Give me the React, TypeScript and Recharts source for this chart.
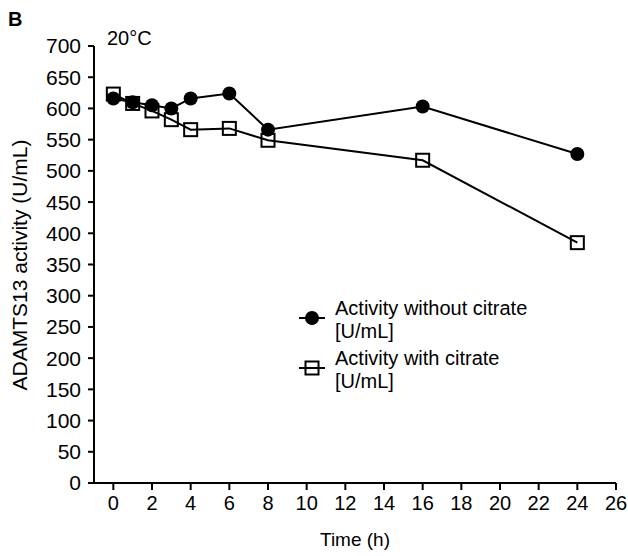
import { LineChart, Line, XAxis, YAxis, Customized } from "recharts";

const hours = [0, 1, 2, 3, 4, 6, 8, 16, 24];
const withoutCitrate = [616, 610, 605, 600, 616, 624, 566, 603, 527];
const withCitrate = [623, 608, 596, 582, 566, 568, 549, 517, 385];
const xTicks = [0, 2, 4, 6, 8, 10, 12, 14, 16, 18, 20, 22, 24, 26];
const yTicks = [0, 50, 100, 150, 200, 250, 300, 350, 400, 450, 500, 550, 600, 650, 700];
const legendLabels = [
  ["Activity without citrate", "[U/mL]"],
  ["Activity with citrate", "[U/mL]"],
];

const data = hours.map((h, i) => ({ time: h, without: withoutCitrate[i], with: withCitrate[i] }));

const FONT = "'Liberation Sans', Arial, Helvetica, sans-serif";

const CircleDot = (props: any) => {
  const { cx, cy } = props;
  return <circle cx={cx} cy={cy} r={7} fill="#000" stroke="none" />;
};

const SquareDot = (props: any) => {
  const { cx, cy } = props;
  const s = 13;
  return <rect x={cx - s / 2} y={cy - s / 2} width={s} height={s} fill="none" stroke="#000" strokeWidth={2} />;
};

// panel letter, temperature, y title and the legend block
const Extras = () => (
  <g fontFamily={FONT} fill="#000">
    <text x={8} y={26} fontSize={20} fontWeight="bold">B</text>
    <text x={107} y={45} fontSize={20}>20°C</text>
    <text
      x={19}
      y={265}
      fontSize={21}
      textAnchor="middle"
      dominantBaseline="central"
      transform="rotate(-90 19 265)"
    >
      ADAMTS13 activity (U/mL)
    </text>
    {legendLabels.map((lines, i) => {
      const y = 318 + i * 50;
      return (
        <g key={i}>
          <line x1={299} y1={y} x2={325} y2={y} stroke="#000" strokeWidth={2} />
          {i === 0
            ? <circle cx={312} cy={y} r={7} fill="#000" />
            : <rect x={305.5} y={y - 6.5} width={13} height={13} fill="none" stroke="#000" strokeWidth={2} />}
          <text x={335} y={y - 3} fontSize={20}>{lines[0]}</text>
          <text x={335} y={y + 20} fontSize={20}>{lines[1]}</text>
        </g>
      );
    })}
  </g>
);

export default function App() {
  return (
    <div style={{ position: "absolute", left: 0, top: 0, background: "#fff" }}>
      <LineChart width={628} height={556} data={data} margin={{ top: 46, right: 12, left: 0, bottom: 0 }}>
        <XAxis
          dataKey="time"
          type="number"
          domain={[-1, 26]}
          ticks={xTicks}
          interval={0}
          height={73}
          tickSize={7}
          tickMargin={6}
          axisLine={{ stroke: "#000", strokeWidth: 2 }}
          tickLine={{ stroke: "#000", strokeWidth: 2 }}
          tick={{ fill: "#000", fontSize: 20, fontFamily: FONT }}
          label={{ value: "Time (h)", position: "insideBottom", offset: 10, fill: "#000", fontSize: 19, fontFamily: FONT }}
        />
        <YAxis
          type="number"
          domain={[0, 700]}
          ticks={yTicks}
          interval={0}
          width={94}
          tickSize={6}
          tickMargin={7}
          axisLine={{ stroke: "#000", strokeWidth: 2 }}
          tickLine={{ stroke: "#000", strokeWidth: 2 }}
          tick={{ fill: "#000", fontSize: 21, fontFamily: FONT }}
        />
        <Line
          dataKey="with"
          stroke="#000"
          strokeWidth={2}
          dot={<SquareDot />}
          activeDot={false}
          isAnimationActive={false}
        />
        <Line
          dataKey="without"
          stroke="#000"
          strokeWidth={2}
          dot={<CircleDot />}
          activeDot={false}
          isAnimationActive={false}
        />
        <Customized component={Extras} />
      </LineChart>
    </div>
  );
}
